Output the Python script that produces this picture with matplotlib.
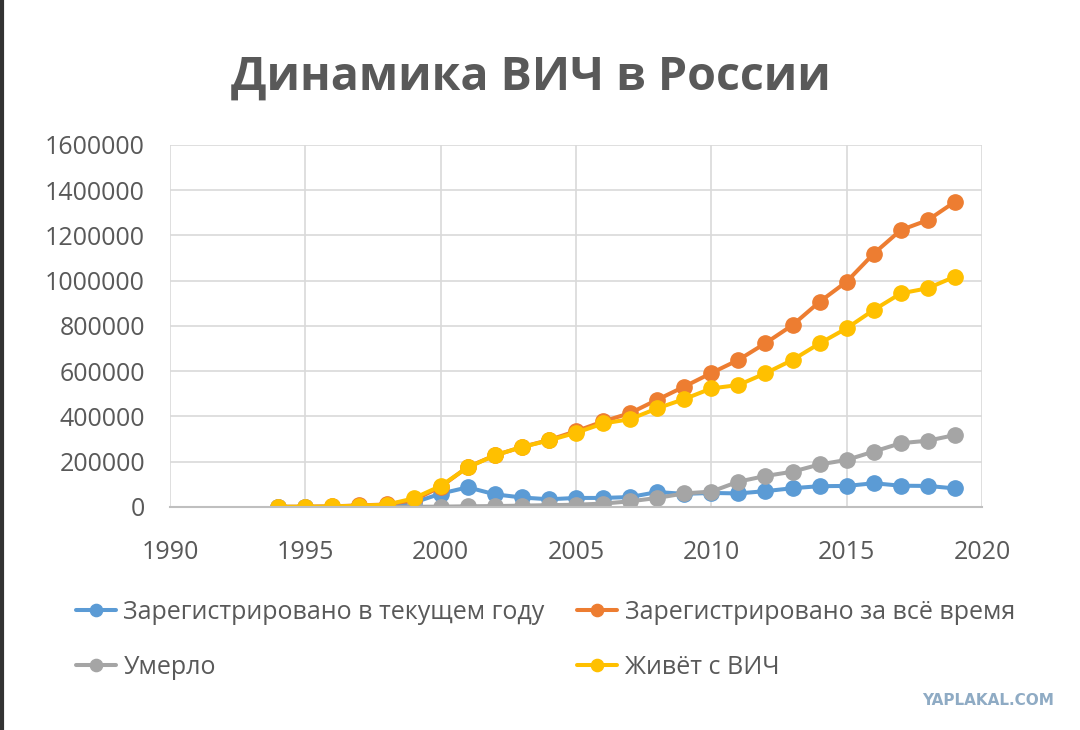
import matplotlib.pyplot as plt
from matplotlib.ticker import MultipleLocator, StrMethodFormatter

years = list(range(1994, 2020))

# Зарегистрировано в текущем году
new_cases = [200, 300, 1000, 4000, 4000, 19000, 59000, 87000, 56000, 42000,
             34000, 40000, 40000, 44000, 66000, 58000, 62000, 60000, 70000, 83000,
             92000, 93000, 105000, 94000, 93000, 82000]
# Зарегистрировано за всё время
total_cases = [1000, 1200, 2800, 7000, 11000, 30000, 89000, 177000, 228000, 265000,
               296000, 335000, 378000, 415000, 474000, 532000, 592000, 650000, 724000, 804000,
               907000, 996000, 1120000, 1224000, 1268000, 1349000]
# Умерло
deaths = [0, 0, 0, 0, 0, 1000, 1500, 3000, 4000, 6000,
          8000, 10000, 15000, 25000, 40000, 60000, 68000, 112000, 137000, 156000,
          188000, 208000, 245000, 282000, 293000, 318000]
# Живёт с ВИЧ
living = [1000, 1100, 2500, 6000, 10000, 38000, 93000, 175000, 228000, 265000,
          294000, 328000, 369000, 388000, 436000, 477000, 524000, 539000, 591000, 650000,
          723000, 790000, 871000, 944000, 967000, 1018000]

labels = ['Зарегистрировано в текущем году', 'Зарегистрировано за всё время',
          'Умерло', 'Живёт с ВИЧ']
colors = ['#5b9bd5', '#ed7d31', '#a5a5a5', '#ffc000']
text_color = '#595959'

plt.rcParams['font.family'] = ['Open Sans', 'DejaVu Sans']

fig = plt.figure(figsize=(10.8, 7.3), dpi=100)
ax = fig.add_axes([0.1574, 0.3055, 0.7519, 0.4959])

lines = []
for vals, lab, col in zip([new_cases, total_cases, deaths, living], labels, colors):
    ln, = ax.plot(years, vals, color=col, lw=2.9, marker='o', markersize=11,
                  label=lab, solid_capstyle='round')
    lines.append(ln)

ax.set_xlim(1990, 2020)
ax.set_ylim(0, 1600000)
ax.xaxis.set_major_locator(MultipleLocator(5))
ax.yaxis.set_major_locator(MultipleLocator(200000))
ax.yaxis.set_major_formatter(StrMethodFormatter('{x:.0f}'))
ax.grid(True, color='#d9d9d9', lw=1.2)
ax.set_axisbelow(True)
for s in ['top', 'right', 'left']:
    ax.spines[s].set_visible(False)
ax.spines['bottom'].set_color('#bfbfbf')
ax.spines['bottom'].set_linewidth(1.5)
ax.tick_params(length=0, labelsize=18, labelcolor=text_color)
ax.tick_params(axis='x', pad=24)
ax.tick_params(axis='y', pad=18)

fig.text(0.492, 0.895, 'Динамика ВИЧ в России', ha='center', va='center',
         fontsize=33.5, fontweight='bold', color=text_color)

# column-wise fill, so this order gives rows: blue/orange, grey/yellow
order = [0, 2, 1, 3]
leg = fig.legend([lines[i] for i in order], [labels[i] for i in order],
                 ncol=2, loc='upper left', bbox_to_anchor=(0.061, 0.192),
                 frameon=False, fontsize=18, labelcolor=text_color,
                 handlelength=1.6, handletextpad=0.3, columnspacing=1.3,
                 labelspacing=1.2, borderaxespad=0, markerscale=0.8)

fig.text(0.976, 0.041, 'YAPLAKAL.COM', ha='right', va='center', fontsize=11,
         fontweight='bold', color='#8fabc4', family='DejaVu Sans')

fig.add_artist(plt.Line2D([0.002, 0.002], [0, 1], color='#333333', lw=3,
                          transform=fig.transFigure))

fig.savefig('out.png', dpi=100, facecolor='white')
